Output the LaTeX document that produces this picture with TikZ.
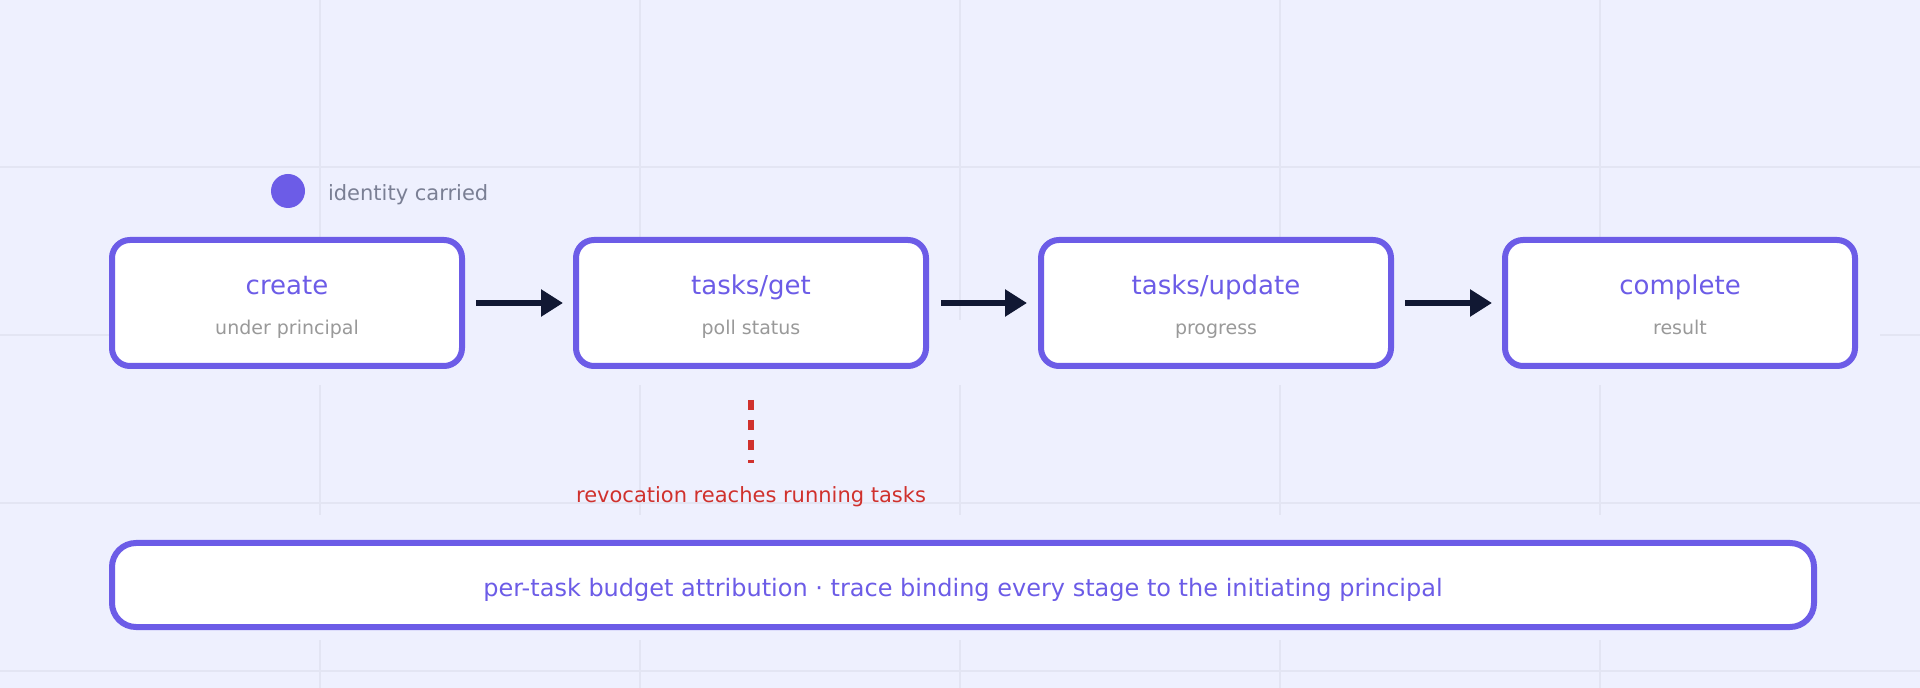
\documentclass[tikz,border=0pt]{standalone}
\usepackage{fontspec}
\setmainfont{DejaVu Sans}
\usetikzlibrary{arrows.meta}
\definecolor{bg}{HTML}{EEF0FE}
\definecolor{grid}{HTML}{E3E5F3}
\definecolor{acc}{HTML}{6C5CE7}
\definecolor{dark}{HTML}{111833}
\definecolor{sub}{HTML}{999999}
\definecolor{leg}{HTML}{7A7F94}
\definecolor{rev}{HTML}{D0312D}
\begin{document}
\begin{tikzpicture}[x=0.5pt,y=-0.5pt,
  stage/.style={draw=acc,line width=3pt,fill=white,rounded corners=9pt,minimum width=175pt,minimum height=63pt},
  ttl/.style={text=acc,font=\fontsize{13}{15}\selectfont,anchor=base},
  sbt/.style={text=sub,font=\fontsize{9.5}{11}\selectfont,anchor=base},
  arr/.style={draw=dark,line width=3pt,-{Triangle[length=11pt,width=13pt]}}]
\fill[bg] (0,0) rectangle (1920,688);
\useasboundingbox (0,0) rectangle (1920,688);
\foreach \x in {320,640,960,1280,1600} \draw[grid,line width=0.6pt] (\x,0)--(\x,688);
\foreach \y in {167,335,503,671} \draw[grid,line width=0.6pt] (0,\y)--(1920,\y);
\fill[bg] (110,320) rectangle (1880,385);
\fill[bg] (110,515) rectangle (1880,640);
\node[circle,fill=acc,minimum size=17pt,inner sep=0] (dot) at (288,191) {};
\node[anchor=west,text=leg,font=\fontsize{10.5}{12}\selectfont] (legt) at (321,195) {identity carried};
\node[stage] (s1) at (287,303) {};
\node[stage] (s2) at (751,303) {};
\node[stage] (s3) at (1216,303) {};
\node[stage] (s4) at (1680,303) {};
\foreach \n/\t/\s in {s1/create/under principal,s2/tasks\slash get/poll status,s3/tasks\slash update/progress,s4/complete/result}{
  \node[ttl] (\n t) at (\n.center |- 0,295) {\t};
  \node[sbt] (\n s) at (\n.center |- 0,335) {\s};
}
\draw[arr] (476,303) -- (563,303);
\draw[arr] (941,303) -- (1027,303);
\draw[arr] (1405,303) -- (1492,303);
\coordinate (ra) at (751,400);
\coordinate (rb) at (751,463);
\draw[rev,line width=3pt,dash pattern=on 5pt off 5pt] (ra) -- (rb);
\node[text=rev,font=\fontsize{10.5}{12}\selectfont] (revt) at (751,497) {revocation reaches running tasks};
\node[draw=acc,line width=3pt,fill=white,rounded corners=12pt,minimum width=851pt,minimum height=42pt] (bot) at (963,585) {};
\node[text=acc,font=\fontsize{12}{14}\selectfont] (bott) at (963,590) {per-task budget attribution · trace binding every stage to the initiating principal};
\end{tikzpicture}
\end{document}
